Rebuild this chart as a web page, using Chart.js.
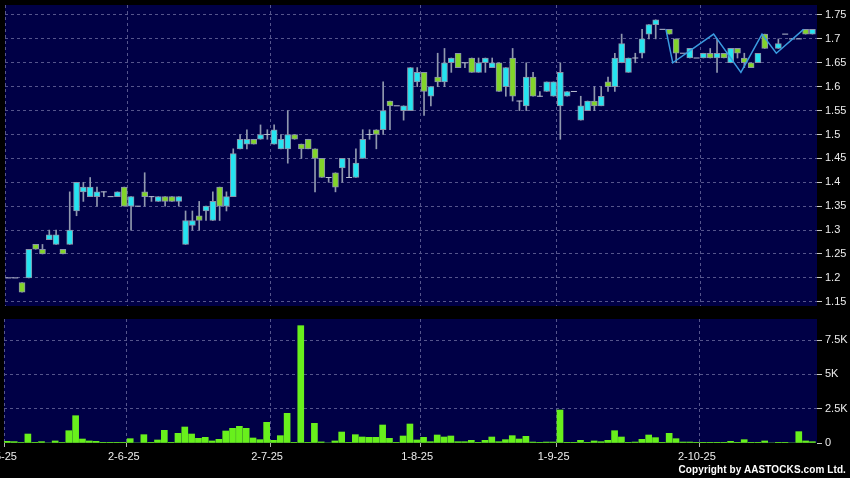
<!DOCTYPE html>
<html>
<head>
<meta charset="utf-8">
<script src="https://cdn.jsdelivr.net/npm/chart.js@4.4.1/dist/chart.umd.min.js"></script>
<style>
  html, body { margin: 0; padding: 0; background: #000; }
  #wrap { position: relative; width: 850px; height: 478px; overflow: hidden; background: #000; }
  #price-canvas { position: absolute; left: 0; top: 0; }
  #volume-canvas { position: absolute; left: 0; top: 315px; }
  #copyright { position: absolute; right: 4px; top: 464px; color: #fff;
    font: bold 10px 'Liberation Sans', Arial, sans-serif; letter-spacing: 0.1px; }
</style>
</head>
<body>
<div id="wrap">
  <canvas id="price-canvas" width="850" height="315"></canvas>
  <canvas id="volume-canvas" width="850" height="163"></canvas>
  <div id="copyright">Copyright by AASTOCKS.com Ltd.</div>
</div>
<script>
// daily candles, one entry per trading day (null = no data that day)
const opens = [1.20,1.20,1.19,1.20,1.27,1.26,1.28,1.27,1.26,1.27,1.34,1.38,1.37,1.37,1.38,1.37,1.37,1.39,1.35,1.35,
  1.38,1.37,1.36,1.37,1.37,1.36,1.27,1.31,1.33,1.34,1.32,1.39,1.35,1.37,1.47,1.48,1.49,1.49,1.50,1.48,
  1.47,1.47,1.50,1.48,1.49,1.47,1.45,1.41,1.42,1.43,1.41,1.41,1.45,1.50,1.51,1.51,1.57,1.56,1.55,1.55,
  1.61,1.63,1.58,1.62,1.61,1.65,1.67,1.65,1.66,1.63,1.65,1.64,1.65,1.60,1.66,1.57,1.56,1.62,1.58,1.59,
  1.58,1.56,1.58,1.59,1.53,1.55,1.57,1.56,1.61,1.60,1.65,1.63,1.66,1.67,1.71,1.73,1.72,1.72,1.70,1.67,
  1.66,1.66,1.66,1.67,1.66,1.67,1.65,1.68,1.66,1.65,1.65,1.71,null,1.68,1.71,1.70,1.70,1.72,1.71];
const highs = [1.20,1.20,1.19,1.26,1.27,1.27,1.30,1.30,1.26,1.38,1.40,1.40,1.41,1.39,1.38,1.37,1.38,1.39,1.37,1.35,
  1.42,1.37,1.37,1.37,1.37,1.37,1.34,1.34,1.36,1.35,1.38,1.39,1.38,1.47,1.50,1.51,1.49,1.52,1.51,1.52,
  1.50,1.55,1.50,1.48,1.49,1.47,1.45,1.41,1.42,1.45,1.45,1.47,1.51,1.51,1.51,1.61,1.57,1.56,1.56,1.64,
  1.64,1.63,1.60,1.67,1.68,1.66,1.67,1.65,1.66,1.66,1.66,1.66,1.65,1.64,1.68,1.57,1.65,1.63,1.59,1.61,
  1.61,1.65,1.59,1.59,1.58,1.57,1.60,1.60,1.62,1.67,1.71,1.66,1.67,1.72,1.73,1.74,1.72,1.72,1.70,1.67,
  1.68,1.66,1.67,1.68,1.70,1.67,1.68,1.68,1.67,1.65,1.67,1.71,null,1.70,1.71,1.70,1.70,1.72,1.72];
const lows = [1.20,1.20,1.17,1.20,1.26,1.25,1.28,1.27,1.25,1.27,1.33,1.36,1.37,1.35,1.37,1.37,1.37,1.35,1.30,1.35,
  1.35,1.36,1.36,1.35,1.36,1.35,1.27,1.30,1.30,1.32,1.32,1.32,1.34,1.37,1.47,1.47,1.48,1.49,1.49,1.48,
  1.47,1.44,1.49,1.45,1.47,1.38,1.41,1.40,1.38,1.40,1.41,1.41,1.45,1.49,1.47,1.50,1.51,1.56,1.53,1.55,
  1.60,1.54,1.56,1.60,1.60,1.63,1.64,1.64,1.63,1.63,1.63,1.64,1.59,1.58,1.57,1.55,1.55,1.58,1.58,1.59,
  1.58,1.49,1.58,1.59,1.53,1.55,1.55,1.56,1.59,1.59,1.65,1.63,1.65,1.66,1.70,1.70,1.72,1.71,1.65,1.67,
  1.66,1.66,1.66,1.66,1.63,1.66,1.65,1.66,1.64,1.64,1.65,1.68,null,1.68,1.71,1.70,1.70,1.71,1.71];
const closes = [1.20,1.20,1.17,1.26,1.26,1.25,1.29,1.29,1.25,1.30,1.40,1.39,1.39,1.38,1.38,1.37,1.38,1.35,1.37,1.35,
  1.37,1.37,1.37,1.36,1.36,1.37,1.32,1.32,1.32,1.35,1.36,1.35,1.37,1.46,1.49,1.49,1.48,1.50,1.50,1.51,
  1.49,1.50,1.49,1.47,1.47,1.45,1.41,1.41,1.39,1.45,1.41,1.44,1.49,1.50,1.50,1.55,1.56,1.56,1.56,1.64,
  1.63,1.59,1.60,1.61,1.65,1.66,1.64,1.65,1.63,1.65,1.66,1.65,1.59,1.64,1.58,1.57,1.62,1.58,1.58,1.61,
  1.61,1.63,1.59,1.59,1.56,1.57,1.56,1.58,1.60,1.66,1.69,1.66,1.66,1.70,1.73,1.74,1.72,1.71,1.67,1.67,
  1.68,1.66,1.67,1.66,1.67,1.66,1.68,1.67,1.65,1.64,1.67,1.68,null,1.69,1.71,1.70,1.70,1.71,1.72];
const volumes = [120,100,30,655,50,100,0,150,30,897,1990,290,150,120,10,10,10,50,315,0,
  607,20,220,923,50,705,1166,655,340,413,150,267,875,1069,1215,1069,365,243,1506,194,
  535,2162,20,8553,50,1433,80,0,150,800,50,607,437,413,413,1312,340,20,510,1385,
  220,413,95,583,437,510,95,95,194,50,194,437,95,243,535,290,486,70,50,70,
  70,2405,50,20,194,20,150,95,194,897,437,20,70,267,583,390,20,705,315,70,
  70,20,50,20,50,20,120,20,243,50,50,150,0,50,20,0,827,150,95];

// thin blue overlay line on the last weeks (x = day index)
const lineDays = [96.5, 97.5, 103.5, 107.5, 110.6, 112.7, 116.7];
const lineValues = [1.72, 1.65, 1.71, 1.63, 1.71, 1.67, 1.72];

// month labels and the day index they sit on
const monthLabels = ['2-5-25', '2-6-25', '2-7-25', '1-8-25', '1-9-25', '2-10-25'];
const monthDays = [-0.5, 17.5, 38.5, 60.5, 80.5, 101.5];

const priceTicks = [1.15, 1.2, 1.25, 1.3, 1.35, 1.4, 1.45, 1.5, 1.55, 1.6, 1.65, 1.7, 1.75];
const volumeTicks = [0, 2500, 5000, 7500];

// colours
const NAVY = '#000046';
const GRID = '#55558c';
const CYAN = '#25e3f0';
const GREEN = '#82d42a';
const EDGE = '#8a94aa';
const WICK = '#9098ae';
const TEXT = '#ececec';
const FONT = {family: "'Liberation Sans', Arial, sans-serif", size: 11};

// split the candles into wicks, bodies and flat dashes
let wicks = [];
let bodies = [];
let bodyColors = [];
let dashes = [];
for (let i = 0; i < closes.length; i++) {
    if (closes[i] === null) continue;
    if (highs[i] > lows[i]) wicks.push({x: i, y: [lows[i], highs[i]]});
    if (opens[i] === closes[i]) {
        dashes.push({x: i, y: closes[i]});
    } else {
        bodies.push({x: i, y: [opens[i], closes[i]]});
        bodyColors.push(closes[i] > opens[i] ? CYAN : GREEN);
    }
}
let volumeBars = volumes.map((v, i) => ({x: i, y: v}));
let linePoints = lineDays.map((d, i) => ({x: d, y: lineValues[i]}));

// fill the plot area navy
const plotBackground = {
    id: 'plotBackground',
    beforeDraw(chart) {
        const a = chart.chartArea;
        const c = chart.ctx;
        c.save();
        c.fillStyle = NAVY;
        c.fillRect(a.left, a.top, a.right - a.left, a.bottom - a.top);
        c.restore();
    }
};

function noPadding(scale) {
    scale.paddingLeft = 0;
    scale.paddingRight = 0;
    scale.paddingTop = 0;
    scale.paddingBottom = 0;
}

// x axis shared by both panels
function dayAxis(showLabels, height) {
    return {
        type: 'linear',
        min: -0.5,
        max: 118.67,
        offset: false,
        afterBuildTicks: function(axis) {
            axis.ticks = monthDays.map(d => ({value: d}));
        },
        afterFit: function(scale) {
            scale.height = height;
            noPadding(scale);
        },
        grid: {
            color: GRID,
            lineWidth: 1,
            offset: false,
            drawTicks: showLabels,
            tickLength: 4,
            tickColor: '#b0b0b0',
            tickBorderDash: []
        },
        border: {display: false, dash: [3, 3]},
        ticks: {
            display: showLabels,
            autoSkip: false,
            maxRotation: 0,
            color: TEXT,
            font: FONT,
            padding: 3,
            labelOffset: -3,
            callback: function(value, index) { return monthLabels[index]; }
        }
    };
}

// right hand value axis
function valueAxis(min, max, tickList, format, hideZero) {
    return {
        position: 'right',
        min: min,
        max: max,
        afterBuildTicks: function(axis) {
            axis.ticks = tickList.map(v => ({value: v}));
        },
        afterFit: function(scale) {
            scale.width = 33;
            noPadding(scale);
        },
        grid: {
            color: function(ctx) { return hideZero && ctx.tick && ctx.tick.value === 0 ? 'rgba(0,0,0,0)' : GRID; },
            drawTicks: true,
            tickLength: 5,
            tickColor: '#c8c8c8',
            tickBorderDash: []
        },
        border: {display: false, dash: [3, 3]},
        ticks: {color: TEXT, font: FONT, padding: 3, callback: format}
    };
}

const commonOptions = {
    responsive: false,
    animation: false,
    events: [],
    plugins: {legend: {display: false}, tooltip: {enabled: false}}
};

// price panel
new Chart(document.getElementById('price-canvas').getContext('2d'), {
    type: 'bar',
    data: {
        datasets: [
            {
                label: 'wick',
                data: wicks,
                backgroundColor: WICK,
                barThickness: 1,
                grouped: false,
                order: 4
            },
            {
                label: 'body',
                data: bodies,
                backgroundColor: bodyColors,
                borderColor: EDGE,
                borderWidth: 1,
                borderSkipped: false,
                barThickness: 6,
                grouped: false,
                order: 3
            },
            {
                type: 'line',
                label: 'flat',
                data: dashes,
                showLine: false,
                pointStyle: 'line',
                pointRadius: 3,
                pointBorderColor: '#b8bece',
                pointBorderWidth: 1,
                order: 2
            },
            {
                type: 'line',
                label: 'overlay',
                data: linePoints,
                borderColor: '#3a9be0',
                borderWidth: 1.5,
                pointRadius: 0,
                fill: false,
                tension: 0,
                order: 1
            }
        ]
    },
    options: Object.assign({}, commonOptions, {
        layout: {padding: {left: 4, top: 5, right: 0, bottom: 0}},
        scales: {
            x: dayAxis(false, 9),
            y: valueAxis(1.1412, 1.7709, priceTicks, v => String(+v.toFixed(2)), false)
        }
    }),
    plugins: [plotBackground]
});

// volume panel
new Chart(document.getElementById('volume-canvas').getContext('2d'), {
    type: 'bar',
    data: {
        datasets: [
            {
                label: 'volume',
                data: volumeBars,
                backgroundColor: '#68f01c',
                barThickness: 6,
                grouped: false
            }
        ]
    },
    options: Object.assign({}, commonOptions, {
        layout: {padding: {left: 4, top: 4, right: 0, bottom: 0}},
        scales: {
            x: dayAxis(true, 35),
            y: valueAxis(0, 9040, volumeTicks, v => v === 0 ? '0' : (v / 1000) + 'K', true)
        }
    }),
    plugins: [plotBackground]
});
</script>
</body>
</html>
